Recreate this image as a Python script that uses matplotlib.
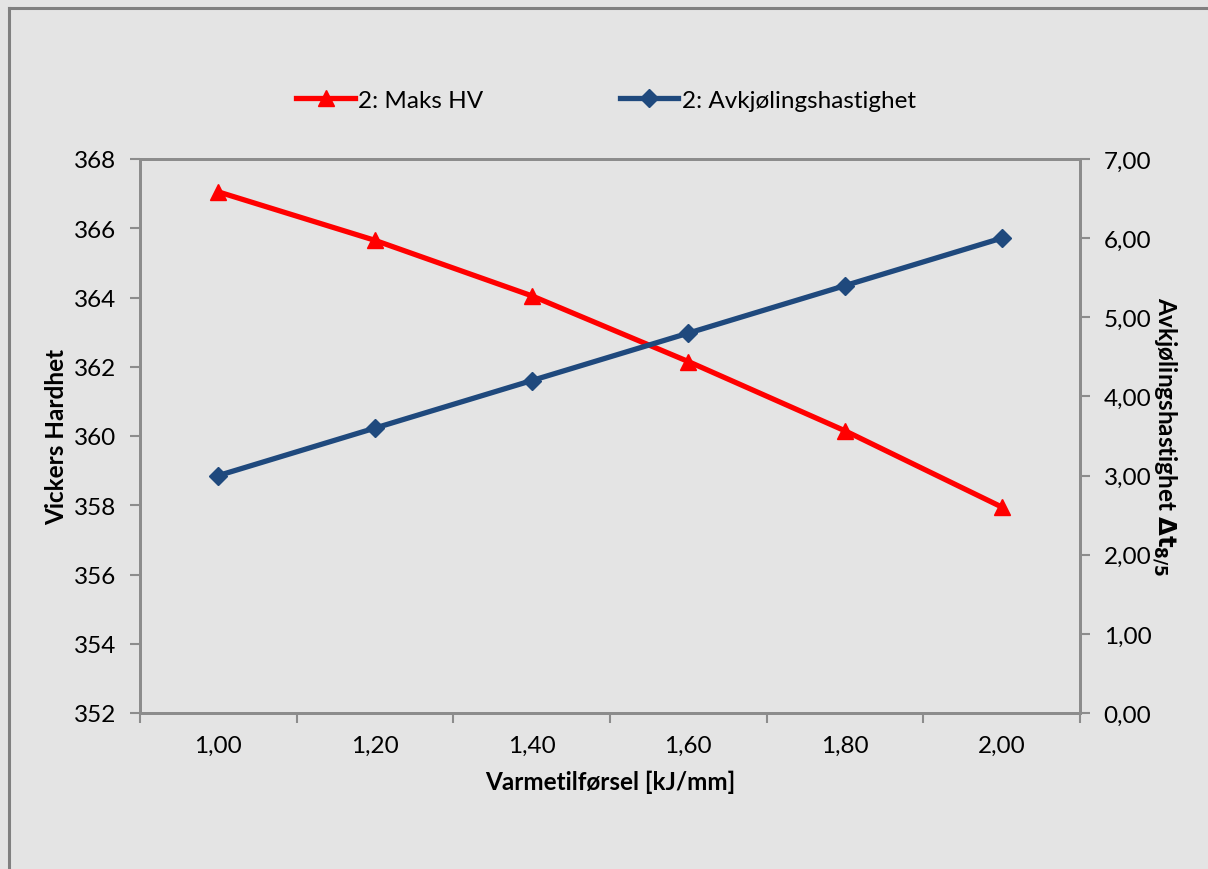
import matplotlib
matplotlib.use("Agg")
import matplotlib.pyplot as plt
from matplotlib.lines import Line2D

plt.rcParams['font.family'] = ['Lato', 'DejaVu Sans']

# Data
heat_input = ["1,00", "1,20", "1,40", "1,60", "1,80", "2,00"]
max_hv = [367.05, 365.65, 364.05, 362.15, 360.15, 357.95]
cooling_rate = [3.0, 3.6, 4.2, 4.8, 5.4, 6.0]
left_ticks = [352, 354, 356, 358, 360, 362, 364, 366, 368]
right_ticks = [0, 1, 2, 3, 4, 5, 6, 7]

bg = "#E4E4E4"
axis_col = "#8C8C8C"
red = "#FF0000"
blue = "#1F497D"
fs = 17.5

W, H = 1208, 870
fig = plt.figure(figsize=(W / 100, H / 100), dpi=100, facecolor=bg)

# Outer chart frame (left and top edges visible)
fig.add_artist(Line2D([9 / W, 9 / W], [0, 1 - 9 / H], transform=fig.transFigure,
                      color="#808080", lw=2.2))
fig.add_artist(Line2D([9 / W, 1], [1 - 9 / H, 1 - 9 / H], transform=fig.transFigure,
                      color="#808080", lw=2.2))

ax = fig.add_axes([140 / W, (H - 714) / H, 940 / W, 554 / H])
ax.set_facecolor(bg)
ax2 = ax.twinx()

x = list(range(len(heat_input)))

ax.plot(x, max_hv, color=red, lw=3.8, marker="^", markersize=11,
        label="2: Maks HV", solid_capstyle="round")
ax2.plot(x, cooling_rate, color=blue, lw=3.8, marker="D", markersize=9,
         label="2: Avkjølingshastighet", solid_capstyle="round")

ax.set_xlim(-0.5, len(heat_input) - 0.5)
ax.set_ylim(left_ticks[0], left_ticks[-1])
ax2.set_ylim(right_ticks[0], right_ticks[-1])

# Category axis: tick marks between categories, labels at centres
ax.set_xticks([i - 0.5 for i in range(len(heat_input) + 1)])
ax.set_xticklabels([])
ax.set_xticks(x, minor=True)
ax.set_xticklabels(heat_input, minor=True)
ax.tick_params(axis="x", which="major", length=7, width=1.5, color=axis_col,
               direction="out")
ax.tick_params(axis="x", which="minor", length=0, pad=16, labelsize=fs)

ax.set_yticks(left_ticks)
ax.set_yticklabels([str(v) for v in left_ticks])
ax.tick_params(axis="y", length=7, width=1.5, color=axis_col, pad=10,
               labelsize=fs)

ax2.set_yticks(right_ticks)
ax2.set_yticklabels([f"{v:.2f}".replace(".", ",") for v in right_ticks])
ax2.tick_params(axis="y", length=7, width=1.5, color=axis_col, pad=10,
                labelsize=fs)

for a in (ax, ax2):
    for s in a.spines.values():
        s.set_color(axis_col)
        s.set_linewidth(2.0)

ax.set_xlabel("Varmetilførsel [kJ/mm]", fontsize=fs, fontweight="bold",
              labelpad=10)
ax.set_ylabel("Vickers Hardhet", fontsize=fs, fontweight="bold", labelpad=4)
ax2.set_ylabel(r"Avkjølingshastighet $\mathbf{\Delta t_{8/5}}$", fontsize=fs,
               fontweight="bold", rotation=-90, labelpad=19)

handles = [
    Line2D([], [], color=red, lw=3.8, marker="^", markersize=11),
    Line2D([], [], color=blue, lw=3.8, marker="D", markersize=9),
]
fig.legend(handles, ["2: Maks HV", "2: Avkjølingshastighet"],
           loc="center", bbox_to_anchor=(606 / W, 1 - 101 / H), ncol=2,
           frameon=False, fontsize=fs, handlelength=2.4, handletextpad=0.15,
           columnspacing=5.6)

fig.savefig("out.png", dpi=100, facecolor=bg)
